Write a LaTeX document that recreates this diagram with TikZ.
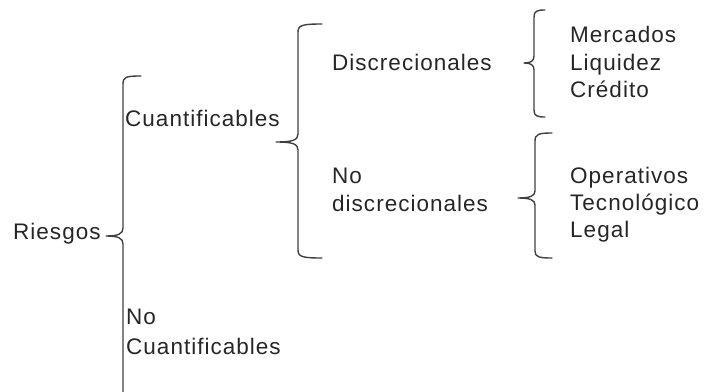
\documentclass[tikz,border=0pt]{standalone}
\usepackage{fontspec}
\setmainfont[LetterSpace=4.5]{Liberation Sans}
\begin{document}
\begin{tikzpicture}[x=1pt,y=-1pt,
  lbl/.style={anchor=base west,inner sep=0pt,font=\fontsize{22.5}{27.5}\selectfont,text=black!85},
  brace/.style={draw=black!75,line width=1.4pt,line cap=round,line join=round}]
\useasboundingbox (0,0) rectangle (704,391);
% Riesgos brace
\draw[brace] (141,76) .. controls (126,76) and (123,77) .. (123,84) -- (123,228)
  .. controls (123,234) and (118,236) .. (106,236)
  .. controls (118,236) and (123,238) .. (123,244) -- (123,392);
% Cuantificables brace
\draw[brace] (322,24) .. controls (303,24) and (298,25) .. (298,32) -- (298,134)
  .. controls (298,140) and (293,142) .. (276,142)
  .. controls (293,142) and (298,144) .. (298,150) -- (298,250)
  .. controls (298,257) and (303,258) .. (322,258);
% Discrecionales brace
\draw[brace] (545,10) .. controls (537,10) and (534,11) .. (534,17) -- (534,56)
  .. controls (534,61) and (531,63) .. (524,63)
  .. controls (531,63) and (534,65) .. (534,70) -- (534,110)
  .. controls (534,116) and (537,117) .. (545,117);
% No discrecionales brace
\draw[brace] (552,133) .. controls (539,133) and (535,134) .. (535,141) -- (535,191)
  .. controls (535,196) and (530,198) .. (518,198)
  .. controls (530,198) and (535,200) .. (535,205) -- (535,251)
  .. controls (535,257) and (539,258) .. (552,258);

\node[lbl] (riesgos) at (13,239) {Riesgos};
\node[lbl] (cuant) at (125,126) {Cuantificables};
\node[lbl] (nocuant1) at (126,324) {No};
\node[lbl] (nocuant2) at (126,354) {Cuantificables};
\node[lbl] (disc) at (332,70) {Discrecionales};
\node[lbl] (nodisc1) at (332,183) {No};
\node[lbl] (nodisc2) at (332,211) {discrecionales};
\node[lbl] (merc) at (570,42) {Mercados};
\node[lbl] (liq) at (570,70) {Liquidez};
\node[lbl] (cred) at (570,97) {Crédito};
\node[lbl] (oper) at (570,183) {Operativos};
\node[lbl] (tecn) at (570,210) {Tecnológico};
\node[lbl] (legal) at (570,237) {Legal};
\end{tikzpicture}
\end{document}
